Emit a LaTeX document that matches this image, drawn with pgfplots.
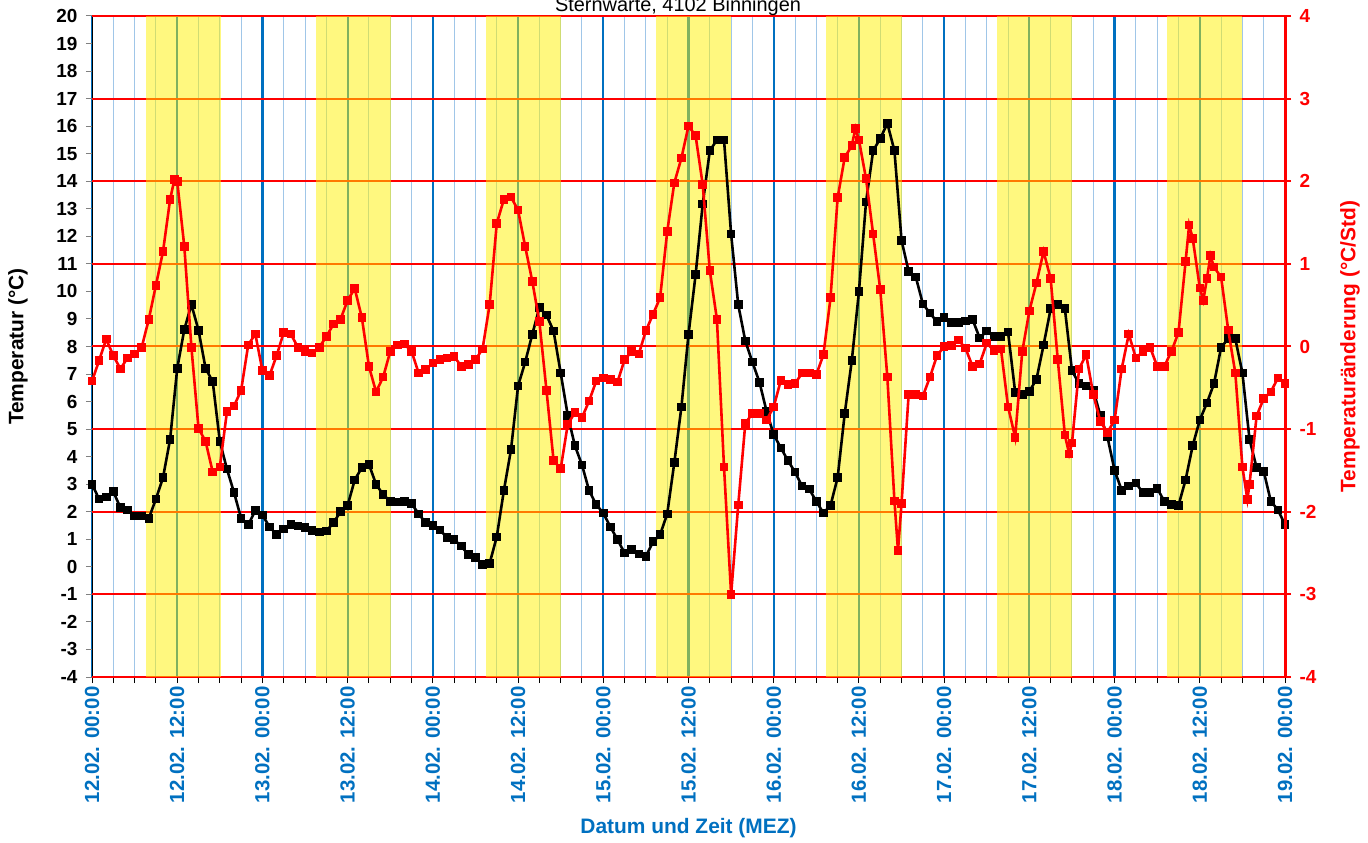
\documentclass[border=0pt]{standalone}
\usepackage{pgfplots}
\usepackage{pgfplotstable}
\pgfplotsset{compat=1.18}
\usepackage{fontspec}
\setmainfont{Liberation Sans}
\definecolor{xblue}{RGB}{0,112,192}
\definecolor{lblue}{RGB}{160,198,232}

\pgfplotstableread{
h T
0 3.0
1 2.46
2 2.54
3 2.73
4 2.15
5 2.07
6 1.84
7 1.84
8 1.76
9 2.46
10 3.24
11 4.63
12 7.2
13 8.62
14 9.52
15 8.59
16 7.2
17 6.73
18 4.56
19 3.55
20 2.7
21 1.76
22 1.53
23 2.04
24 1.88
25 1.45
26 1.17
27 1.37
28 1.53
29 1.48
30 1.42
31 1.33
32 1.27
33 1.3
34 1.6
35 2.0
36 2.23
37 3.16
38 3.6
39 3.72
40 3.0
41 2.62
42 2.38
43 2.35
44 2.38
45 2.3
46 1.92
47 1.6
48 1.5
49 1.34
50 1.06
51 0.99
52 0.75
53 0.44
54 0.33
55 0.09
56 0.13
57 1.09
58 2.77
59 4.25
60 6.57
61 7.43
62 8.44
63 9.41
64 9.14
65 8.56
66 7.04
67 5.49
68 4.4
69 3.7
70 2.77
71 2.26
72 1.95
73 1.45
74 0.99
75 0.5
76 0.64
77 0.46
78 0.38
79 0.91
80 1.17
81 1.92
82 3.78
83 5.8
84 8.44
85 10.61
86 13.17
87 15.11
88 15.5
89 15.5
90 12.08
91 9.52
92 8.2
93 7.43
94 6.7
95 5.64
96 4.8
97 4.32
98 3.86
99 3.44
100 2.93
101 2.82
102 2.38
103 1.95
104 2.23
105 3.24
106 5.57
107 7.5
108 9.99
109 13.25
110 15.11
111 15.55
112 16.1
113 15.11
114 11.85
115 10.73
116 10.53
117 9.55
118 9.21
119 8.9
120 9.05
121 8.87
122 8.87
123 8.93
124 8.98
125 8.31
126 8.56
127 8.36
128 8.36
129 8.52
130 6.34
131 6.26
132 6.37
133 6.81
134 8.05
135 9.37
136 9.52
137 9.37
138 7.12
139 6.65
140 6.57
141 6.42
142 5.49
143 4.71
144 3.5
145 2.78
146 2.94
147 3.04
148 2.69
149 2.69
150 2.85
151 2.38
152 2.27
153 2.23
154 3.16
155 4.4
156 5.33
157 5.95
158 6.65
159 7.97
160 8.28
161 8.28
162 7.04
163 4.63
164 3.6
165 3.47
166 2.38
167 2.07
168 1.53
}\temptable

\pgfplotstableread{
h D
0 -0.42
1 -0.17
2 0.09
3 -0.11
4 -0.27
5 -0.14
6 -0.09
7 -0.01
8 0.33
9 0.74
10 1.15
11 1.78
11.6 2.02
12 2.00
13 1.21
14 -0.01
15 -0.99
16 -1.15
17 -1.52
18 -1.46
19 -0.79
20 -0.72
21 -0.53
22 0.02
23 0.15
24 -0.29
25 -0.35
26 -0.11
27 0.17
28 0.15
29 -0.01
30 -0.06
31 -0.08
32 -0.01
33 0.12
34 0.27
35 0.33
36 0.56
37 0.70
38 0.35
39 -0.24
40 -0.55
41 -0.37
42 -0.06
43 0.02
44 0.03
45 -0.06
46 -0.32
47 -0.28
48 -0.20
49 -0.16
50 -0.14
51 -0.12
52 -0.24
53 -0.22
54 -0.16
55 -0.03
56 0.51
57 1.49
58 1.78
59 1.81
60 1.65
61 1.21
62 0.79
63 0.30
64 -0.53
65 -1.38
66 -1.48
67 -0.94
68 -0.80
69 -0.86
70 -0.66
71 -0.42
72 -0.38
73 -0.40
74 -0.43
75 -0.16
76 -0.06
77 -0.09
78 0.19
79 0.39
80 0.59
81 1.39
82 1.98
83 2.28
84 2.67
85 2.55
86 1.96
87 0.92
88 0.33
89 -1.46
90 -3.00
91 -1.92
92 -0.93
93 -0.81
94 -0.81
95 -0.89
96 -0.73
97 -0.41
98 -0.46
99 -0.45
100 -0.32
101 -0.32
102 -0.34
103 -0.10
104 0.59
105 1.80
106 2.29
107 2.43
107.5 2.64
108 2.50
109 2.03
110 1.36
111 0.69
112 -0.37
113 -1.87
113.5 -2.47
114 -1.90
115 -0.58
116 -0.58
117 -0.60
118 -0.37
119 -0.11
120 0.00
121 0.01
122 0.08
123 -0.02
124 -0.24
125 -0.21
126 0.04
127 -0.05
128 -0.03
129 -0.73
130 -1.10
131 -0.06
132 0.43
133 0.77
134 1.15
135 0.82
136 -0.16
137 -1.07
137.6 -1.30
138 -1.17
139 -0.27
140 -0.10
141 -0.58
142 -0.91
143 -1.04
144 -0.89
145 -0.27
146 0.15
147 -0.14
148 -0.06
149 -0.01
150 -0.24
151 -0.24
152 -0.06
153 0.17
154 1.03
154.5 1.47
155 1.31
156 0.71
156.5 0.56
157 0.82
157.5 1.10
158 0.96
159 0.84
160 0.20
161 -0.32
162 -1.46
162.7 -1.85
163 -1.67
164 -0.84
165 -0.63
166 -0.55
167 -0.38
168 -0.45
}\changetable

\begin{document}
\begin{tikzpicture}
\begin{axis}[
  at={(92bp,166bp)}, anchor=south west,
  scale only axis, width=1193bp, height=661bp,
  xmin=0, xmax=168, ymin=-4, ymax=20,
  axis x line*=bottom, axis y line*=left,
  axis line style={black, line width=1bp, -},
  tick align=outside, major tick length=6bp, minor tick length=6bp,
  xtick={0,12,...,168},
  xticklabels={12.02. 00:00,12.02. 12:00,13.02. 00:00,13.02. 12:00,14.02. 00:00,14.02. 12:00,15.02. 00:00,15.02. 12:00,16.02. 00:00,16.02. 12:00,17.02. 00:00,17.02. 12:00,18.02. 00:00,18.02. 12:00,19.02. 00:00},
  minor x tick num=3,
  xmajorgrids, xminorgrids,
  major x grid style={xblue, line width=2.2bp},
  minor x grid style={lblue, line width=1bp},
  x tick style={black, line width=1bp},
  y tick style={gray, line width=1bp},
  ytick={-4,-3,-2,-1,0,1,2,3,4,5,6,7,8,9,10,11,12,13,14,15,16,17,18,19,20},
  yticklabels={-4,-3,-2,-1,0,1,2,3,4,5,6,7,8,9,10,11,12,13,14,15,16,17,18,19,20},
  extra y ticks={-4,-1,2,5,8,11,14,17,20},
  extra y tick labels={},
  extra y tick style={ymajorgrids=true, major grid style={red, line width=2bp}, major tick length=0pt},
  yticklabel style={font=\fontsize{19}{19}\selectfont\bfseries, text=black, xshift=-5bp},
  xticklabel style={font=\fontsize{20.5}{20.5}\selectfont\bfseries, text=xblue, rotate=90, anchor=east},
  every axis x label/.style={at={(axis description cs:0.5,-0.2285)}, anchor=center, font=\fontsize{21}{21}\selectfont\bfseries, text=xblue},
  every axis y label/.style={at={(axis description cs:-0.062,0.5)}, rotate=90, anchor=center, font=\fontsize{21}{21}\selectfont\bfseries, text=black},
  xlabel={Datum und Zeit (MEZ)},
  ylabel={Temperatur (°C)},
  clip=true,
]
\addplot[fill=yellow, fill opacity=0.5, draw=none, forget plot] coordinates {(7.6,-4) (7.6,20) (18.1,20) (18.1,-4)} -- cycle;
\addplot[fill=yellow, fill opacity=0.5, draw=none, forget plot] coordinates {(31.55,-4) (31.55,20) (42.07,20) (42.07,-4)} -- cycle;
\addplot[fill=yellow, fill opacity=0.5, draw=none, forget plot] coordinates {(55.5,-4) (55.5,20) (66.05,20) (66.05,-4)} -- cycle;
\addplot[fill=yellow, fill opacity=0.5, draw=none, forget plot] coordinates {(79.45,-4) (79.45,20) (90.05,20) (90.05,-4)} -- cycle;
\addplot[fill=yellow, fill opacity=0.5, draw=none, forget plot] coordinates {(103.42,-4) (103.42,20) (114.05,20) (114.05,-4)} -- cycle;
\addplot[fill=yellow, fill opacity=0.5, draw=none, forget plot] coordinates {(127.38,-4) (127.38,20) (138.03,20) (138.03,-4)} -- cycle;
\addplot[fill=yellow, fill opacity=0.5, draw=none, forget plot] coordinates {(151.33,-4) (151.33,20) (162.0,20) (162.0,-4)} -- cycle;
\addplot[black, line width=2.6bp, mark=square*, mark size=3bp, mark options={solid, fill=black}] table[x=h, y=T] {\temptable};
\end{axis}
\begin{axis}[
  at={(92bp,166bp)}, anchor=south west,
  scale only axis, width=1193bp, height=661bp,
  xmin=0, xmax=168, ymin=-4, ymax=4,
  axis x line=none, axis y line*=right,
  axis line style={red, line width=3bp, -},
  tick align=outside, major tick length=6bp,
  ytick={-4,-3,-2,-1,0,1,2,3,4},
  yticklabels={-4,-3,-2,-1,0,1,2,3,4},
  y tick style={red, line width=2bp},
  yticklabel style={font=\fontsize{19}{19}\selectfont\bfseries, text=red, xshift=5bp},
  every axis y label/.style={at={(axis description cs:1.0545,0.5)}, rotate=90, anchor=center, font=\fontsize{21}{21}\selectfont\bfseries, text=red},
  ylabel={Temperaturänderung (°C/Std)},
]
\addplot[red, line width=2.6bp, mark=square*, mark size=3bp, mark options={solid, fill=red}] table[x=h, y=D] {\changetable};
\end{axis}
\node[anchor=base, font=\fontsize{20}{20}\selectfont] at (678bp,831bp) {Sternwarte, 4102 Binningen};
\pgfresetboundingbox
\path[use as bounding box] (0,0) rectangle (1368bp,843bp);
\end{tikzpicture}
\end{document}
